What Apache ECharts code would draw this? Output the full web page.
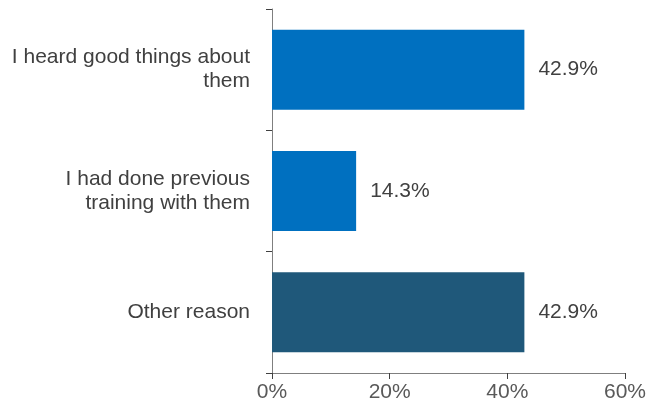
<!DOCTYPE html>
<html>
<head>
<meta charset="utf-8">
<script src="https://cdn.jsdelivr.net/npm/echarts@6/dist/echarts.min.js"></script>
<style>html,body{margin:0;padding:0;background:#fff;}#c{width:649px;height:412px;}</style>
</head>
<body>
<div id="c"></div>
<script>
var categories = ["I heard good things about\nthem", "I had done previous\ntraining with them", "Other reason"];
var values = [42.9, 14.3, 42.9];
var barColors = ["#0070C0", "#0070C0", "#1F587A"];
var xTicks = [0, 20, 40, 60];

var chart = echarts.init(document.getElementById('c'), null, {renderer: 'canvas'});
chart.setOption({
  animation: false,
  grid: {left: 272, right: 20, top: 9, bottom: 39, containLabel: false},
  xAxis: {
    type: 'value', min: xTicks[0], max: xTicks[xTicks.length - 1], interval: 20,
    axisLine: {show: true, lineStyle: {color: '#7f7f7f', width: 1}},
    axisTick: {show: true, length: 6, lineStyle: {color: '#404040'}},
    splitLine: {show: false},
    axisLabel: {formatter: '{value}%', fontFamily: 'Liberation Sans, Arial', fontSize: 21, color: '#595959', margin: 9}
  },
  yAxis: {
    type: 'category', data: categories, inverse: true,
    axisLine: {show: true, lineStyle: {color: '#7f7f7f', width: 1}},
    axisTick: {show: true, length: 6, lineStyle: {color: '#404040'}},
    axisLabel: {fontFamily: 'Liberation Sans, Arial', fontSize: 21, color: '#404040', margin: 22, align: 'right', lineHeight: 24}
  },
  series: [{
    type: 'bar',
    data: values.map(function (v, i) { return {value: v, itemStyle: {color: barColors[i]}}; }),
    barCategoryGap: '34%',
    label: {show: true, position: 'right', distance: 14, formatter: function (p) { return p.value.toFixed(1) + '%'; },
      fontFamily: 'Liberation Sans, Arial', fontSize: 21, color: '#404040'}
  }]
});
</script>
</body>
</html>
